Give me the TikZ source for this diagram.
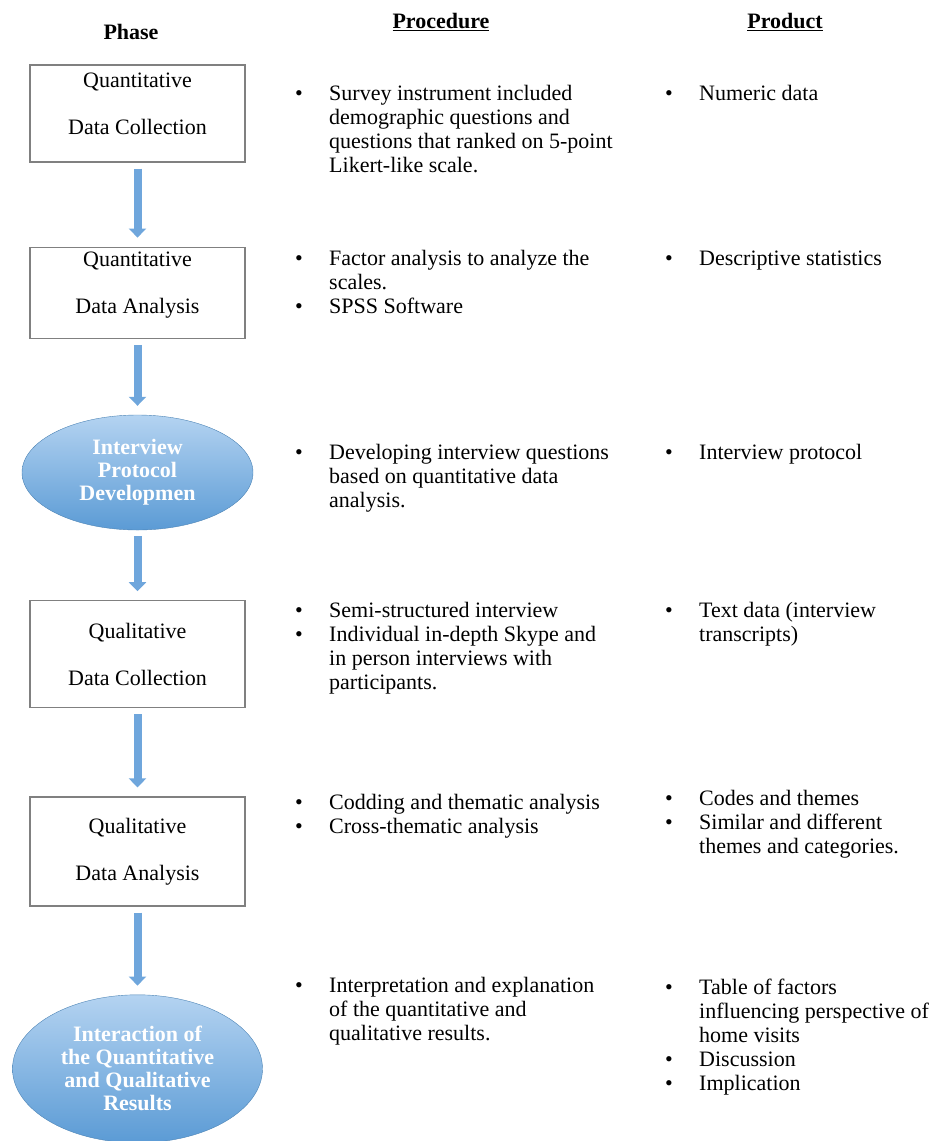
\documentclass[tikz,border=0pt]{standalone}
\usepackage{fontspec}
\setmainfont{Liberation Serif}
\usepackage{xcolor}
\usepackage{tikz}
\usetikzlibrary{shapes.geometric, arrows.meta, positioning, calc}

\definecolor{boxgray}{HTML}{808080}
\definecolor{elltop}{HTML}{B4D3F1}
\definecolor{ellbot}{HTML}{5B9BD5}
\definecolor{arrowblue}{HTML}{6FA6DC}

\newcommand{\bl}{\textbullet}
\newcommand{\blist}[1]{\begin{tabular}[t]{@{}p{34pt}@{}l@{}}#1\end{tabular}}

\begin{document}
\begin{tikzpicture}[x=1pt, y=-1pt]
        \tikzstyle{phasebox} = [rectangle, draw=boxgray, line width=1.2pt, minimum width=215pt, align=center, font=\fontsize{22}{24}\selectfont]
        \tikzstyle{phaseell} = [ellipse, draw=ellbot!85!black, top color=elltop, bottom color=ellbot, text=white, align=center, inner sep=0pt, font=\fontsize{22}{23}\selectfont\bfseries]
        \tikzstyle{head} = [font=\fontsize{22}{24}\selectfont\bfseries]
        \tikzstyle{cell} = [anchor=base west, inner sep=0pt, font=\fontsize{22}{24}\selectfont]
        \tikzstyle{arrow} = [line width=8pt, arrowblue, -{Triangle[width=17pt,length=9pt]}, shorten <=6pt, shorten >=9pt]

        \useasboundingbox (0,0) rectangle (938,1141);

        \node (phase) [head] at (131,32) {Phase};
        \node (proc) [head] at (441,22) {\underline{Procedure}};
        \node (prod) [head] at (785,22) {\underline{Product}};

        \node (qdc) [phasebox, minimum height=97pt] at (137.5,113.5) {Quantitative\\[23pt]Data Collection\\[-4pt]~};
        \node (qda) [phasebox, minimum height=91pt, below=84pt of qdc] {Quantitative\\[23pt]Data Analysis\\[-5pt]~};
        \node (ipd) [phaseell, minimum width=231pt, minimum height=115pt, below=76pt of qda] {Interview\\Protocol\\Developmen};
        \node (qlc) [phasebox, minimum height=107pt, below=70pt of ipd] {Qualitative\\[23pt]Data Collection};
        \node (qla) [phasebox, minimum height=109pt, below=88pt of qlc] {Qualitative\\[23pt]Data Analysis};
        \node (iqq) [phaseell, minimum width=250pt, minimum height=148pt, below=88pt of qla] {Interaction of\\the Quantitative\\and Qualitative\\Results};

        \draw [arrow] (qdc) -- (qda);
        \draw [arrow] (qda) -- (ipd);
        \draw [arrow] (ipd) -- (qlc);
        \draw [arrow] (qlc) -- (qla);
        \draw [arrow] (qla) -- (iqq);

        % procedure and product lists
        \node (pr1) [cell] at (295,100) {\blist{\bl & Survey instrument included\\ & demographic questions and\\ & questions that ranked on 5-point\\ & Likert-like scale.}};
        \node (pr2) [cell] at (295,265) {\blist{\bl & Factor analysis to analyze the\\ & scales.\\ \bl & SPSS Software}};
        \node (pr3) [cell] at (295,459) {\blist{\bl & Developing interview questions\\ & based on quantitative data\\ & analysis.}};
        \node (pr4) [cell] at (295,617) {\blist{\bl & Semi-structured interview\\ \bl & Individual in-depth Skype and\\ & in person interviews with\\ & participants.}};
        \node (pr5) [cell] at (295,809) {\blist{\bl & Codding and thematic analysis\\ \bl & Cross-thematic analysis}};
        \node (pr6) [cell] at (295,992) {\blist{\bl & Interpretation and explanation\\ & of the quantitative and\\ & qualitative results.}};

        \node (pd1) [cell] at (665,100) {\blist{\bl & Numeric data}};
        \node (pd2) [cell] at (665,265) {\blist{\bl & Descriptive statistics}};
        \node (pd3) [cell] at (665,459) {\blist{\bl & Interview protocol}};
        \node (pd4) [cell] at (665,617) {\blist{\bl & Text data (interview\\ & transcripts)}};
        \node (pd5) [cell] at (665,805) {\blist{\bl & Codes and themes\\ \bl & Similar and different\\ & themes and categories.}};
        \node (pd6) [cell] at (665,994) {\blist{\bl & Table of factors\\ & influencing perspective of\\ & home visits\\ \bl & Discussion\\ \bl & Implication}};
\end{tikzpicture}
\end{document}
